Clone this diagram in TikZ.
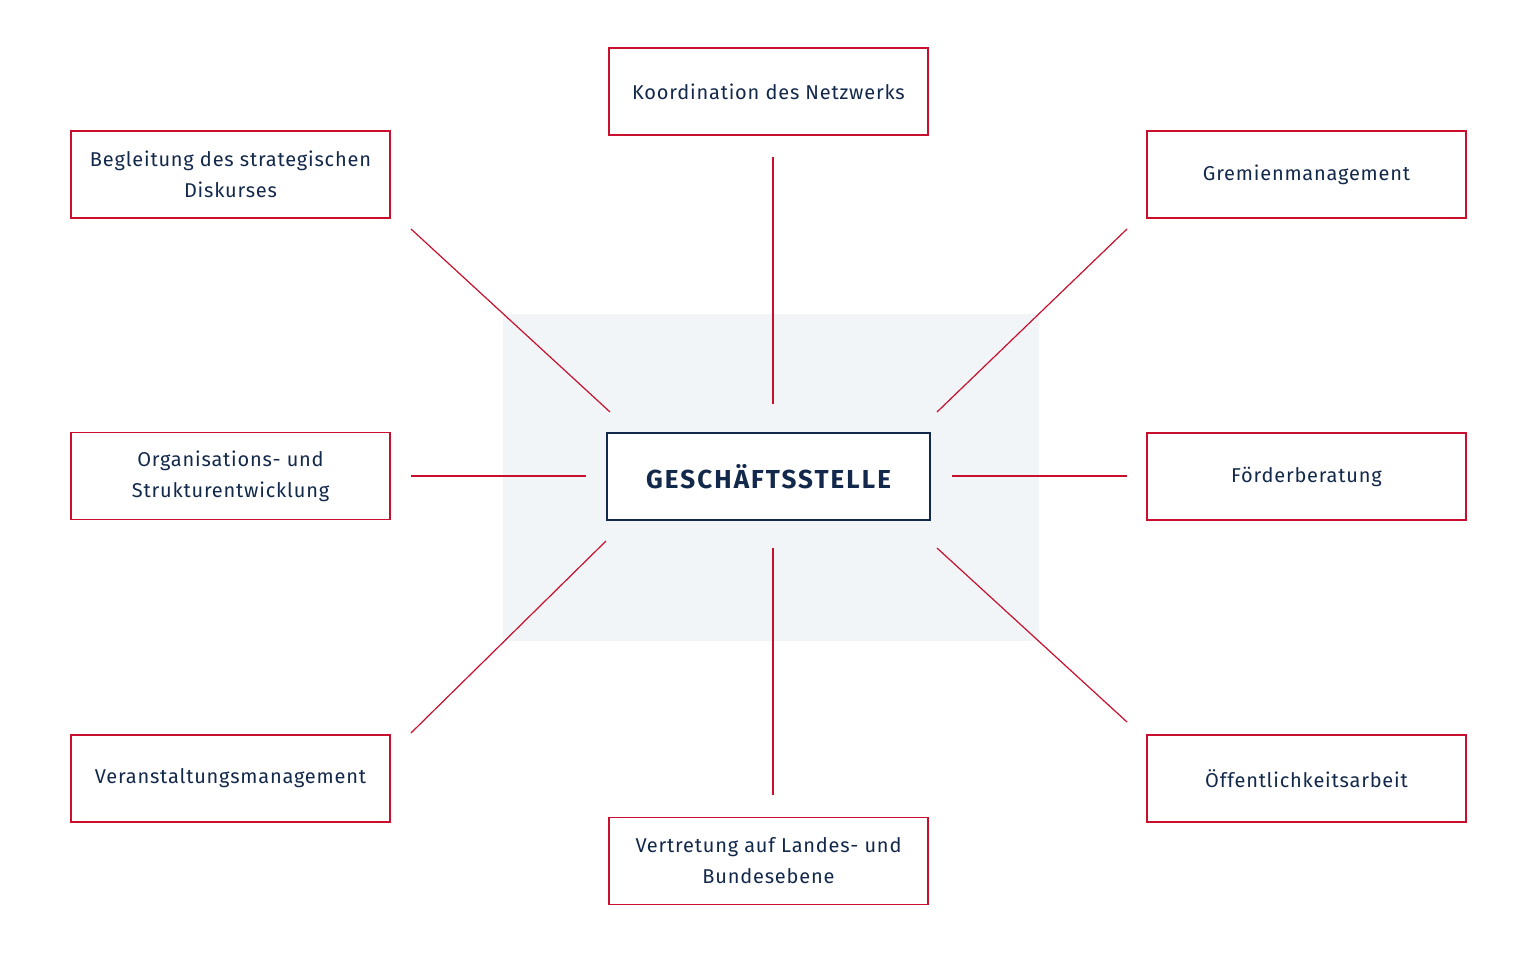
\documentclass[tikz,border=0pt]{standalone}
\usepackage{fontspec}
\setmainfont{Fira Sans}[LetterSpace=4]
\newfontfamily\titlefont{Fira Sans}[LetterSpace=8]
\definecolor{crim}{HTML}{C8102E}
\definecolor{navy}{HTML}{13294B}
\definecolor{bgpanel}{HTML}{F2F5F8}
\begin{document}
\begin{tikzpicture}[x=0.5pt,y=-0.5pt,
  boxstyle/.style={draw=crim,line width=0.8pt,minimum width=159.5pt,minimum height=43.5pt,
    align=center,text=navy,font=\fontsize{10}{15.5}\selectfont,inner sep=0pt},
  centerbox/.style={draw=navy,fill=white,line width=1pt,minimum width=161.5pt,minimum height=43.5pt,
    text=navy,font=\titlefont\bfseries\fontsize{13}{15}\selectfont,inner sep=0pt},
  link/.style={draw=crim,line width=0.6pt}]
\useasboundingbox (0,0) rectangle (1538,960);
\fill[white] (0,0) rectangle (1538,960);
\fill[bgpanel] (503,314) rectangle (1039,641);
\node[centerbox] (center) at (768.5,476.5) {GESCHÄFTSSTELLE};
\node[boxstyle] (koord) at (768.5,91.5) {Koordination des Netzwerks};
\node[boxstyle] (begl) at (230.5,174.5) {Begleitung des strategischen\\Diskurses};
\node[boxstyle] (grem) at (1306.5,174.5) {\raisebox{-1pt}{Gremienmanagement}};
\node[boxstyle] (orga) at (230.5,476) {Organisations- und\\Strukturentwicklung};
\node[boxstyle] (foerd) at (1306.5,476.5) {\raisebox{-1pt}{Förderberatung}};
\node[boxstyle] (veran) at (230.5,778.5) {\raisebox{-1pt}{Veranstaltungsmanagement}};
\node[boxstyle] (oeff) at (1306.5,778.5) {Öffentlichkeitsarbeit};
\node[boxstyle] (vertr) at (768.5,861) {Vertretung auf Landes- und\\Bundesebene};
% connector end points
\coordinate (tA) at (773,157); \coordinate (tB) at (773,404);
\coordinate (bA) at (773,548); \coordinate (bB) at (773,795);
\coordinate (lA) at (411,476); \coordinate (lB) at (586,476);
\coordinate (rA) at (952,476); \coordinate (rB) at (1127,476);
\coordinate (tlA) at (411,229); \coordinate (tlB) at (610,412);
\coordinate (trA) at (1127,229); \coordinate (trB) at (937,412);
\coordinate (blA) at (606,541); \coordinate (blB) at (411,733);
\coordinate (brA) at (937,548); \coordinate (brB) at (1127,722);
\draw[link] (tA) -- (tB);
\draw[link] (bA) -- (bB);
\draw[link] (lA) -- (lB);
\draw[link] (rA) -- (rB);
\draw[link] (tlA) -- (tlB);
\draw[link] (trA) -- (trB);
\draw[link] (blA) -- (blB);
\draw[link] (brA) -- (brB);
\end{tikzpicture}
\end{document}
